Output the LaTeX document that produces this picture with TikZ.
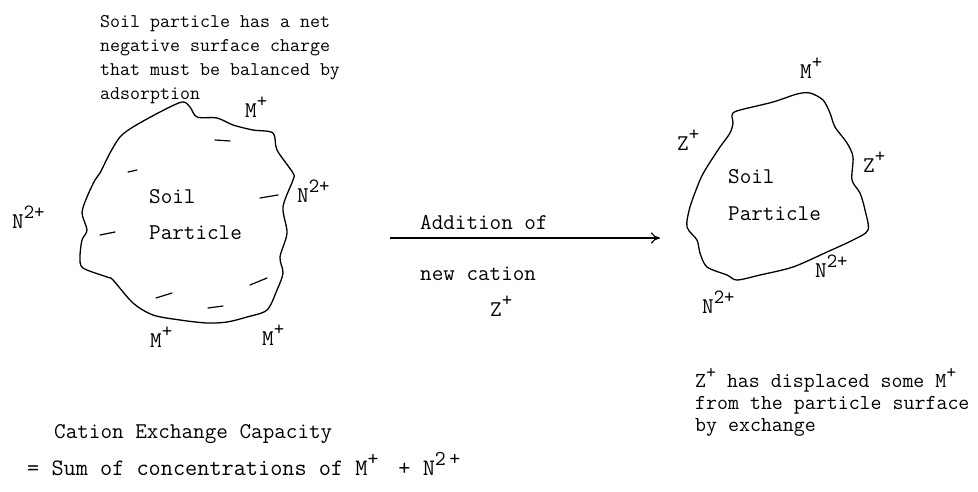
\documentclass[tikz,border=0pt]{standalone}
\usepackage{fontspec}
\usetikzlibrary{arrows.meta}
\newcommand\up[1]{\raisebox{0.42em}{\scalebox{0.9}{#1}}}
\newcommand\tw{\ttfamily\addfontfeature{FakeBold=1.0}}
\tikzset{
  txt/.style={inner sep=0pt, anchor=base west, font=\fontsize{22.5}{24}\tw},
  note/.style={inner sep=0pt, anchor=base west, font=\fontsize{19.4}{21}\tw},
  rnote/.style={inner sep=0pt, anchor=base west, font=\fontsize{21.3}{23}\tw},
  sumtxt/.style={inner sep=0pt, anchor=base west, font=\fontsize{23.6}{25}\tw},
  blob/.style={line width=1.3pt, line join=round},
  dashmark/.style={line width=1.2pt, line cap=round},
}
\begin{document}
\begin{tikzpicture}[x=1pt,y=-1pt]
\useasboundingbox (0,0) rectangle (978,491);
% left particle
\draw[blob] plot[smooth cycle, tension=0.5] coordinates {
 (120,137) (133,127) (160,112) (182,102) (190,107) (197,117) (217,118) (233,125)
 (253,130) (273,133) (277,150) (293,173) (293,180) (283,207) (287,233) (280,257)
 (283,273) (277,290) (267,310) (247,317) (227,322) (207,323) (180,320) (153,315)
 (133,303) (113,280) (107,277) (83,268) (80,257) (82,240) (87,230) (82,213)
 (87,197) (95,180) (100,173) (110,153)};
% negative charges
\draw[dashmark] (215,140) -- (230,141);
\draw[dashmark] (128,172) -- (137,170);
\draw[dashmark] (260,198) -- (278,195);
\draw[dashmark] (100,235) -- (115,232);
\draw[dashmark] (250,285) -- (267,278);
\draw[dashmark] (156,298) -- (172,293);
\draw[dashmark] (208,308) -- (223,306);
% top note
\node[note] (n1) at (100,27) {Soil particle has a net};
\node[note] (n2) at (100,51) {negative surface charge};
\node[note] (n3) at (100,75) {that must be balanced by};
\node[note] (n4) at (100,99) {adsorption};
% left labels
\node[txt] (lm1) at (245,117) {M\up{+}};
\node[txt] (ln1) at (297,202) {N\up{2+}};
\node[txt] (ln2) at (12,228) {N\up{2+}};
\node[txt] (ls) at (149,203) {Soil};
\node[txt] (lp) at (149,239) {Particle};
\node[txt] (lm2) at (150,347) {M\up{+}};
\node[txt] (lm3) at (262,345) {M\up{+}};
% arrow
\coordinate (a1) at (390,238);
\coordinate (a2) at (660,238);
\draw[line width=1.1pt, -{To[length=9pt,width=11pt,line width=1.1pt]}] (a1) -- (a2);
\node[txt] (add1) at (420,229) {Addition of};
\node[txt] (add2) at (420,280) {new cation};
\node[txt] (addz) at (490,316) {Z\up{+}};
% right particle
\draw[blob] plot[smooth cycle, tension=0.5] coordinates {
 (733,113) (740,110) (773,102) (797,94) (810,93) (823,100) (830,113) (835,127)
 (847,143) (853,157) (852,180) (860,193) (865,210) (868,230) (853,240) (827,252)
 (793,267) (760,275) (737,280) (727,275) (707,267) (700,253) (697,240) (687,227)
 (690,207) (700,180) (707,167) (720,147) (730,133) (733,123) (732,117)};
\node[txt] (rm) at (800,78) {M\up{+}};
\node[txt] (rz1) at (677,150) {Z\up{+}};
\node[txt] (rz2) at (863,172) {Z\up{+}};
\node[txt] (rs) at (728,183) {Soil};
\node[txt] (rp) at (728,220) {Particle};
\node[txt] (rn1) at (815,277) {N\up{2+}};
\node[txt] (rn2) at (702,313) {N\up{2+}};
% right note
\node[rnote] (r1) at (695,387) {Z\up{+} has displaced some M\up{+}};
\node[rnote] (r2) at (695,409) {from the particle surface};
\node[rnote] (r3) at (695,431) {by exchange};
% bottom
\node[txt] (cec) at (54,438) {Cation Exchange Capacity};
\node[sumtxt] (sum) at (27,475) {= Sum of concentrations of M\up{+}\,\, + N\up{2\,+}};
\end{tikzpicture}
\end{document}
